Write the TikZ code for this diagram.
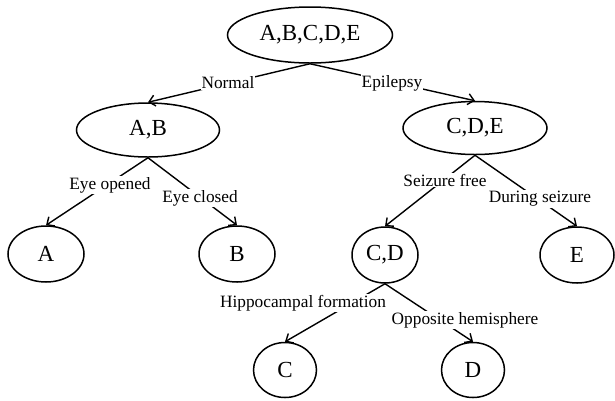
\documentclass[tikz,border=0pt]{standalone}
\usepackage{fontspec}
\setmainfont{Liberation Serif}
\usetikzlibrary{shapes.geometric,arrows.meta}
\begin{document}
\begin{tikzpicture}[x=1pt,y=-1pt,
  set/.style={draw,ellipse,line width=1.5pt,inner sep=0pt,font=\fontsize{23}{25}\selectfont},
  lbl/.style={fill=white,inner sep=1pt,font=\fontsize{17.3}{19}\selectfont},
  conn/.style={line width=1.4pt,-{Straight Barb[length=6pt,width=11pt,line width=1.4pt]}}]
\useasboundingbox (0,0) rectangle (615,400);
\node[set,minimum width=165pt,minimum height=56pt] (root) at (310,35) {A,B,C,D,E};
\node[set,minimum width=143pt,minimum height=54pt] (ab) at (148,130) {A,B};
\node[set,minimum width=144pt,minimum height=53pt] (cde) at (475,128) {C,D,E};
\node[set,minimum width=76pt,minimum height=56pt] (a) at (46,254) {A};
\node[set,minimum width=76pt,minimum height=56pt] (b) at (237,254) {B};
\node[set,minimum width=66pt,minimum height=56pt] (cd) at (385,255) {C,D};
\node[set,minimum width=74pt,minimum height=56pt] (e) at (577,255) {E};
\node[set,minimum width=63pt,minimum height=55pt] (c) at (285,370) {C};
\node[set,minimum width=63pt,minimum height=55pt] (d) at (473,370) {D};
\draw[conn] (root.south) -- (ab.north);
\draw[conn] (root.south) -- (cde.north);
\draw[conn] (ab.south) -- (a.north);
\draw[conn] (ab.south) -- (b.north);
\draw[conn] (cde.south) -- (cd.north);
\draw[conn] (cde.south) -- (e.north);
\draw[conn] (cd.south) -- (c.north);
\draw[conn] (cd.south) -- (d.north);
\node[lbl] (l1) at (228,83) {Normal};
\node[lbl] (l2) at (392,83) {Epilepsy};
\node[lbl] (l3) at (110,185) {Eye opened};
\node[lbl] (l4) at (200,198) {Eye closed};
\node[lbl] (l5) at (445,180) {Seizure free};
\node[lbl] (l6) at (540,199) {During seizure};
\node[lbl] (l7) at (303,303) {Hippocampal formation};
\node[lbl] (l8) at (465,320) {Opposite hemisphere};
\end{tikzpicture}
\end{document}
